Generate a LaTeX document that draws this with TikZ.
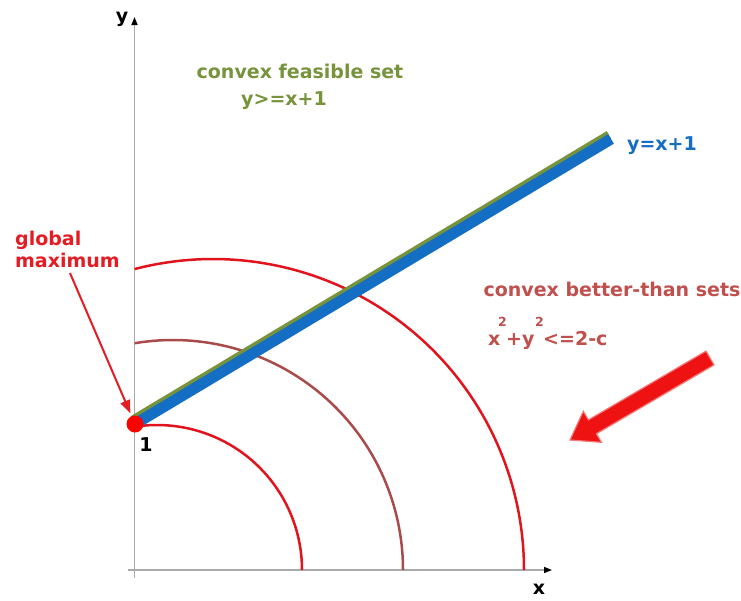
\documentclass[tikz,border=0pt]{standalone}
\usepackage{fontspec}
\setmainfont{DejaVu Sans}
\usetikzlibrary{arrows.meta}
\definecolor{axisgray}{RGB}{170,170,170}
\definecolor{arcred}{RGB}{225,20,30}
\definecolor{arcbrown}{RGB}{170,75,75}
\definecolor{txtred}{RGB}{228,28,36}
\definecolor{setred}{RGB}{192,80,77}
\definecolor{feasgreen}{RGB}{119,147,60}
\definecolor{lineblue}{RGB}{20,110,195}
\definecolor{arrowred}{RGB}{238,18,18}
\definecolor{arrowedge}{RGB}{245,120,120}
\begin{document}
\begin{tikzpicture}[x=1pt,y=-1pt,
  lbl/.style={font=\fontsize{19}{21}\selectfont\bfseries, inner sep=0pt},
  suplbl/.style={font=\fontsize{12.5}{14}\selectfont\bfseries, inner sep=0pt},
  axis/.style={axisgray, line width=1.5pt, -{Triangle[length=8pt,width=6pt,color=black]}},
  ellarc/.style={line width=2.5pt},
  pointer/.style={txtred, line width=2pt, -{Triangle[length=13pt,width=10pt]}}]
\useasboundingbox (0,0) rectangle (741,600);
\fill[white] (0,0) rectangle (741,600);
% axes
\coordinate (ybot) at (134.5,578);
\coordinate (ytop) at (134.5,17);
\coordinate (xleft) at (128,570);
\coordinate (xend) at (552,570);
\draw[axis] (ybot) -- (ytop);
\draw[axis] (xleft) -- (xend);
\node[lbl, anchor=base] (ylab) at (122,22) {y};
\node[lbl] (xlab) at (539,589) {x};
% arcs (circles centred on the x axis)
\draw[arcred, ellarc] (157,570) ++(-98.9:145) arc[start angle=-98.9, end angle=0, radius=145];
\draw[arcbrown, ellarc] (173,570) ++(-99.6:230) arc[start angle=-99.6, end angle=0, radius=230];
\draw[arcred, ellarc] (213,570) ++(-104.6:311) arc[start angle=-104.6, end angle=0, radius=311];
% constraint line
\coordinate (p1) at (135,424);
\coordinate (p2) at (611,139);
\draw[feasgreen, line width=9pt] ([shift={(-2,-4)}]p1) -- ([shift={(-2,-4)}]p2);
\draw[lineblue, line width=11pt] (p1) -- (p2);
\node[circle, fill=red, minimum size=17pt, inner sep=0pt] (gmax) at (p1) {};
\node[lbl, anchor=base] (one) at (146,451) {1};
% labels
\node[lbl, feasgreen, anchor=base] (feas) at (300,78) {convex feasible set};
\node[lbl, feasgreen, anchor=base] (feaseq) at (284,105) {y>=x+1};
\node[lbl, lineblue, anchor=base] (lineeq) at (662,150) {y=x+1};
\node[lbl, txtred, anchor=base west] (glob) at (15,245) {global};
\node[lbl, txtred, anchor=base west] (maxi) at (15,267) {maximum};
\node[lbl, setred, anchor=base] (better) at (612,296) {convex better-than sets};
\node[lbl, setred, anchor=base west] (bx) at (488,345) {x};
\node[lbl, setred, anchor=base west] (by) at (506,345) {+y};
\node[lbl, setred, anchor=base west] (brest) at (543,345) {<=2-c};
\node[suplbl, setred, anchor=base west] (s1) at (498,326) {2};
\node[suplbl, setred, anchor=base west] (s2) at (535,326) {2};
% pointer to global maximum
\coordinate (ptail) at (70,273);
\draw[pointer, shorten >=3pt] (ptail) -- (gmax);
% big red arrow
\filldraw[fill=arrowred, draw=arrowedge, line width=1.2pt]
  (714,364.9) -- (706,351.1) -- (588.4,419.9) -- (583.3,411.3) -- (570,440)
  -- (601.5,442.3) -- (596.4,433.7) -- cycle;
\end{tikzpicture}
\end{document}
